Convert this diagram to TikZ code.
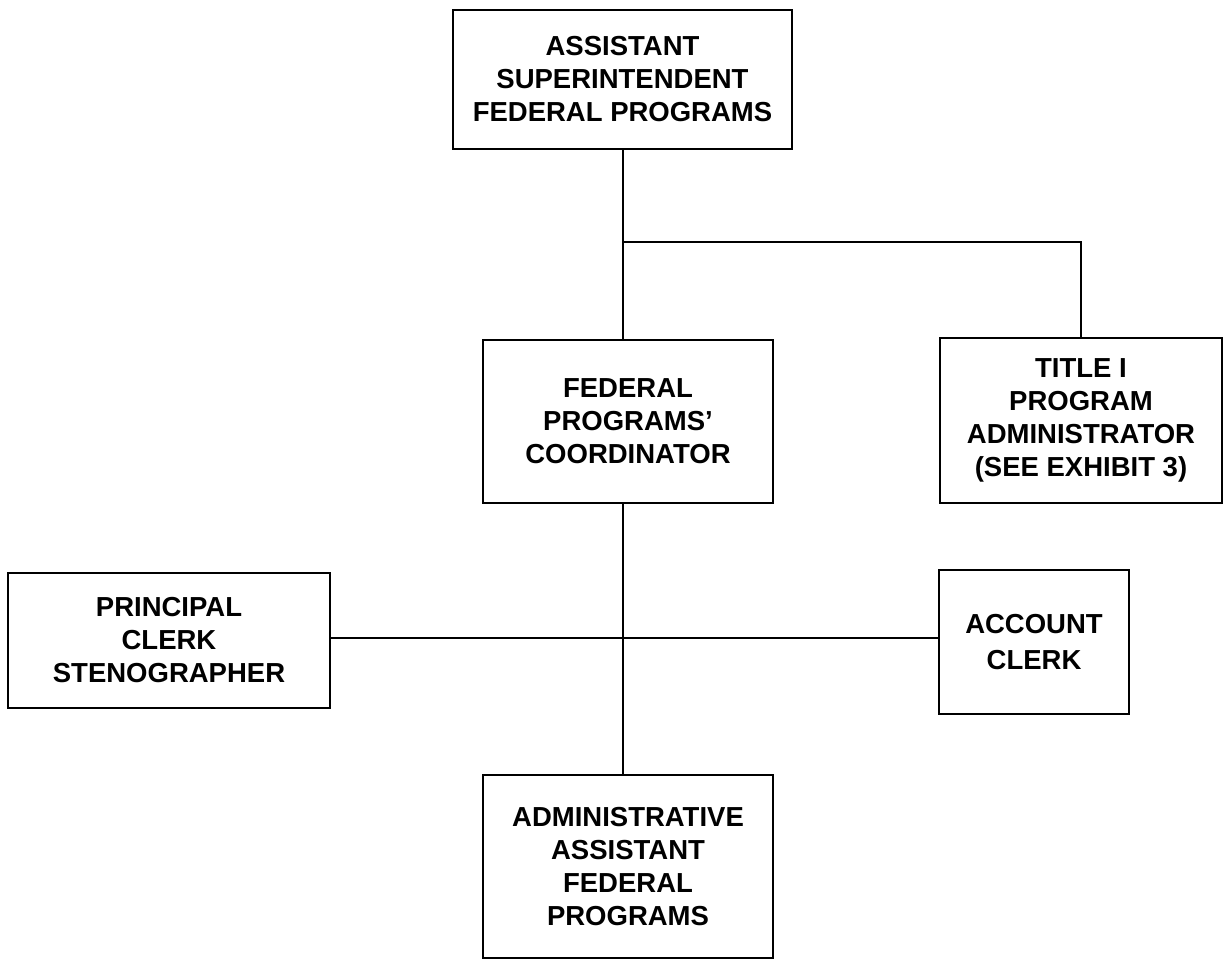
\documentclass[tikz,border=0pt]{standalone}
\usepackage{fontspec}
\setmainfont{Liberation Sans}
\begin{document}
\begin{tikzpicture}[x=1pt,y=-1pt,
  orgbox/.style={draw, line width=2.2pt, inner sep=0pt, align=center,
    font=\bfseries\fontsize{27.5}{33}\selectfont},
  link/.style={line width=2.2pt}]
\useasboundingbox (0,0) rectangle (1227,967);
\node[orgbox, minimum width=339pt, minimum height=139pt] (b1) at (622.5,79.5)
  {ASSISTANT\\SUPERINTENDENT\\FEDERAL PROGRAMS};
\node[orgbox, minimum width=290pt, minimum height=163pt] (b2) at (628,421.5)
  {FEDERAL\\PROGRAMS'\\COORDINATOR};
\node[orgbox, minimum width=282pt, minimum height=165pt] (b3) at (1081,420.5)
  {TITLE I\\PROGRAM\\ADMINISTRATOR\\(SEE EXHIBIT 3)};
\node[orgbox, minimum width=322pt, minimum height=135pt] (b4) at (169,640.5)
  {PRINCIPAL\\CLERK\\STENOGRAPHER};
\node[orgbox, minimum width=190pt, minimum height=144pt, font=\bfseries\fontsize{27.5}{36}\selectfont] (b5) at (1034,642)
  {ACCOUNT\\CLERK};
\node[orgbox, minimum width=290pt, minimum height=183pt] (b6) at (628,866.5)
  {ADMINISTRATIVE\\ASSISTANT\\FEDERAL\\PROGRAMS};
\coordinate (j1) at (623,242);
\coordinate (h) at (623,638);
\draw[link] (b1.south -| j1) -- (b2.north -| j1);
\draw[link] (j1) -| (b3.north);
\draw[link] (b2.south -| j1) -- (b6.north -| j1);
\draw[link] (b4.east |- h) -- (b5.west |- h);
\end{tikzpicture}
\end{document}
